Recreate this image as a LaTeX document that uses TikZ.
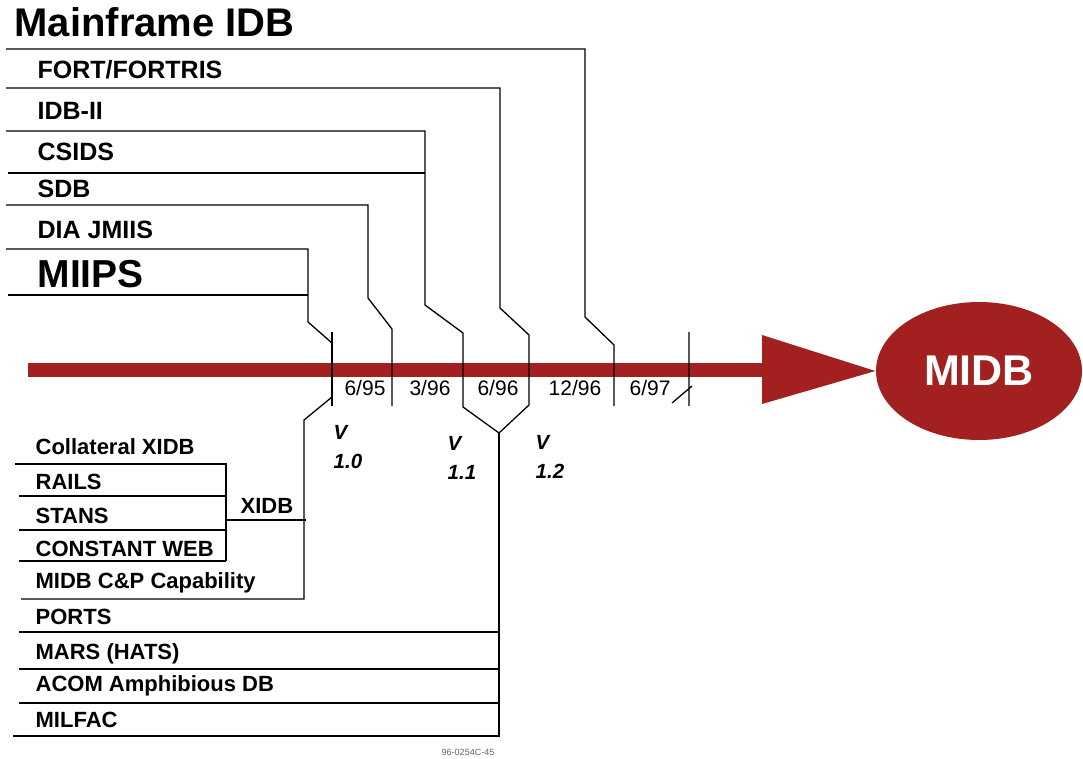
\documentclass[tikz,border=0pt]{standalone}
\usepackage{fontspec}
\setmainfont{Liberation Sans}
\usetikzlibrary{shapes.geometric}
\definecolor{midbred}{RGB}{162,32,32}

\begin{document}
\begin{tikzpicture}[x=1pt,y=-1pt,line width=1.3pt,
    item/.style={anchor=base west,inner sep=0pt,font=\fontsize{25}{30}\selectfont\bfseries},
    subitem/.style={anchor=base west,inner sep=0pt,font=\fontsize{22}{26}\selectfont\bfseries},
    date/.style={anchor=base,inner sep=0pt,font=\fontsize{21}{25}\selectfont},
    version/.style={anchor=base west,inner sep=0pt,align=left,font=\fontsize{20.5}{29}\selectfont\bfseries\itshape}]
  \useasboundingbox (0,0) rectangle (1083,759);
  \node[ellipse,fill=midbred,minimum width=206,minimum height=138,inner sep=0pt,
        text=white,font=\fontsize{43}{50}\selectfont\bfseries] (midb) at (979,371) {MIDB};
  \fill[midbred] (28,363) rectangle (763,377);
  \fill[midbred] (762,335) -- (midb.west) -- (762,404) -- cycle;

  \node[item,font=\fontsize{40}{48}\selectfont\bfseries] (mainframe) at (14,37) {Mainframe IDB};
  \foreach \name/\y/\txt in {fort/79/{FORT/FORTRIS}, idb/120/IDB-II, csids/161/CSIDS,
                              sdb/198/SDB, jmiis/238/DIA JMIIS}
    \node[item] (\name) at (37,\y) {\txt};
  \node[item,font=\fontsize{39}{46}\selectfont\bfseries] (miips) at (37,287) {MIIPS};

  \coordinate (v2) at (499,433);
  \draw (6,49) -- (585,49) -- (585,317) -- (614,345) -- (614,406);
  \draw (6,88) -- (500,88) -- (500,308) -- (529,335) -- (529,405) -- (v2);
  \draw (6,131) -- (425,131) -- (425,305) -- (463,333) -- (463,407) -- (v2);
  \draw (8,173) -- (425,173);
  \draw (6,205) -- (368,205) -- (368,298) -- (392,329) -- (392,406);
  \draw (6,249) -- (308,249) -- (308,322) -- (332,343);
  \draw (8,295) -- (308,295);
  \draw (332,332) -- (332,406);
  \draw (689,332) -- (689,406) (672,403) -- (692,386);

  \foreach \name/\x/\txt in {d1/365/{6/95}, d2/430/{3/96}, d3/498/{6/96},
                              d4/575/{12/96}, d5/650/{6/97}}
    \node[date] (\name) at (\x,395) {\txt};

  \node[version] (v10) at (333,468) {V\\1.0};
  \node[version] (v11) at (447,479) {V\\1.1};
  \node[version] (v12) at (535,478) {V\\1.2};

  \foreach \name/\y/\txt in {coll/454/Collateral XIDB, rails/489/RAILS, stans/523/STANS,
                              cweb/556/CONSTANT WEB, cap/588/MIDB C\&P Capability,
                              ports/624/PORTS, mars/659/MARS (HATS),
                              acom/691/ACOM Amphibious DB, milfac/727/MILFAC}
    \node[subitem] (\name) at (35,\y) {\txt};
  \node[subitem] (xidb) at (240,513) {XIDB};

  \draw (15,464) -- (226,464) -- (226,561);
  \foreach \y in {496,530,561}
    \draw (19,\y) -- (226,\y);
  \draw (226,520) -- (306,520);
  \draw (332,397) -- (304,420) -- (304,599) -- (21,599);
  \draw (v2) -- (499,736) -- (13,736);
  \foreach \y in {632,669,703}
    \draw (19,\y) -- (499,\y);

  \node[inner sep=0pt,text=black!60,font=\fontsize{9}{10}\selectfont] (ref) at (468,752) {96-0254C-45};
\end{tikzpicture}
\end{document}
